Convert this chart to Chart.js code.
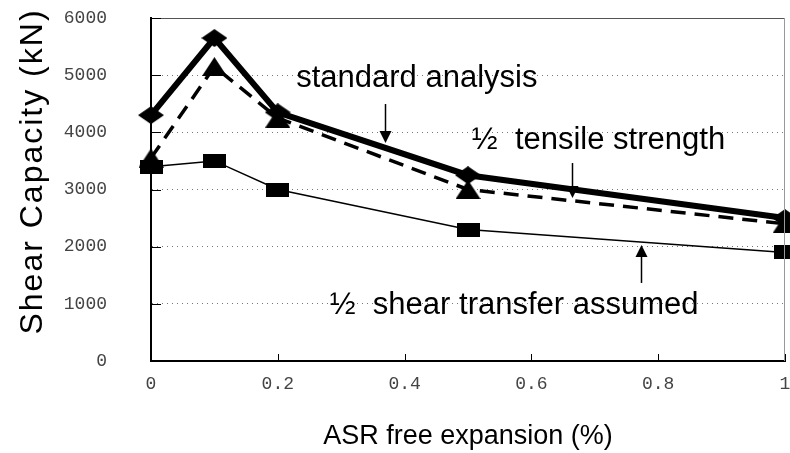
<!DOCTYPE html>
<html>
<head>
<meta charset="utf-8">
<script src="https://cdn.jsdelivr.net/npm/chart.js@4/dist/chart.umd.min.js"></script>
<style>
    body { margin: 0; background: #fff; }
    #wrap { width: 790px; height: 453px; }
</style>
</head>
<body>
<div id="wrap"><canvas id="myChart"></canvas></div>
<script>
// data
var expansion = [0, 0.1, 0.2, 0.5, 1.0];
var standardAnalysis = [4300, 5650, 4350, 3250, 2500];
var halfTensile = [3550, 5150, 4250, 3000, 2400];
var halfShear = [3400, 3500, 3000, 2300, 1900];
var xTicks = [0, 0.2, 0.4, 0.6, 0.8, 1];
var yTicks = [0, 1000, 2000, 3000, 4000, 5000, 6000];
var yTitle = 'Shear Capacity (kN)';
var xTitle = 'ASR free expansion (%)';

// text labels + arrows, in data units
var notes = [
    { text: 'standard analysis', x: 0.229, y: 4950, ax: 0.369, ay1: 4495, ay2: 3813 },
    { text: '\u00bd  tensile strength', x: 0.506, y: 3866, ax: 0.664, ay1: 3463, ay2: 2851 },
    { text: '\u00bd  shear transfer assumed', x: 0.282, y: 980, ax: 0.773, ay1: 1365, ay2: 2030 }
];

function makeMarker(type, w, h) {
    var c = document.createElement('canvas');
    c.width = w; c.height = h;
    var g = c.getContext('2d');
    g.fillStyle = '#000';
    g.beginPath();
    if (type == 'diamond') {
        g.moveTo(w / 2, 0); g.lineTo(w, h / 2); g.lineTo(w / 2, h); g.lineTo(0, h / 2);
    } else if (type == 'triangle') {
        g.moveTo(w / 2, 0); g.lineTo(w, h); g.lineTo(0, h);
    } else {
        g.rect(0, 0, w, h);
    }
    g.closePath();
    g.fill();
    return c;
}

function toPoints(vals) {
    return vals.map(function (v, i) { return { x: expansion[i], y: v }; });
}

var extras = {
    id: 'extras',
    afterDraw: function (chart) {
        var c = chart.ctx, xs = chart.scales.x, ys = chart.scales.y, a = chart.chartArea;
        c.save();
        // frame top/right
        c.strokeStyle = '#555';
        c.lineWidth = 1;
        c.beginPath();
        c.moveTo(a.left, a.top + 0.5); c.lineTo(a.right, a.top + 0.5);
        c.stroke();
        c.strokeStyle = '#999';
        c.beginPath();
        c.moveTo(a.right - 0.5, a.top); c.lineTo(a.right - 0.5, a.bottom);
        c.stroke();
        // inner tick marks
        c.strokeStyle = '#000';
        xTicks.forEach(function (t) {
            var px = Math.round(xs.getPixelForValue(t)) + 0.5;
            c.beginPath(); c.moveTo(px, a.bottom); c.lineTo(px, a.bottom - 7); c.stroke();
        });
        yTicks.forEach(function (t) {
            var py = Math.round(ys.getPixelForValue(t)) + 0.5;
            c.beginPath(); c.moveTo(a.left, py); c.lineTo(a.left + 10, py); c.stroke();
        });
        // notes
        c.fillStyle = '#000';
        c.font = '31px "Liberation Sans", Arial, sans-serif';
        c.textBaseline = 'middle';
        notes.forEach(function (n) {
            c.fillText(n.text, xs.getPixelForValue(n.x), ys.getPixelForValue(n.y));
            var ax = Math.round(xs.getPixelForValue(n.ax)) + 0.5;
            var y1 = ys.getPixelForValue(n.ay1), y2 = ys.getPixelForValue(n.ay2);
            var dir = y2 > y1 ? 1 : -1;
            c.lineWidth = 1.5;
            c.beginPath(); c.moveTo(ax, y1); c.lineTo(ax, y2 - dir * 10); c.stroke();
            c.beginPath();
            c.moveTo(ax, y2); c.lineTo(ax - 6, y2 - dir * 12); c.lineTo(ax + 6, y2 - dir * 12);
            c.closePath(); c.fill();
        });
        // y title, letter-spaced like the original
        c.translate(33, (a.top + a.bottom) / 2 - 18);
        c.rotate(-Math.PI / 2);
        c.font = '32px "Liberation Sans", Arial, sans-serif';
        c.letterSpacing = '2px';
        c.textAlign = 'center';
        c.fillText(yTitle, 0, 0);
        c.restore();
    }
};

var tickFont = { family: '"Liberation Mono", monospace', size: 18 };

var ctx = document.getElementById('myChart').getContext('2d');
var chart = new Chart(ctx, {
    type: 'scatter',
    data: {
        datasets: [{
            label: 'standard analysis',
            data: toPoints(standardAnalysis),
            showLine: true,
            borderColor: '#000',
            borderWidth: 6,
            pointStyle: makeMarker('diamond', 26, 18),
            order: 2
        }, {
            label: '1/2 tensile strength',
            data: toPoints(halfTensile),
            showLine: true,
            borderColor: '#000',
            borderWidth: 3.5,
            borderDash: [15, 9],
            pointStyle: makeMarker('triangle', 25, 19),
            order: 1
        }, {
            label: '1/2 shear transfer assumed',
            data: toPoints(halfShear),
            showLine: true,
            borderColor: '#000',
            borderWidth: 1.5,
            pointStyle: makeMarker('rect', 23, 14),
            order: 3
        }]
    },
    options: {
        responsive: true,
        maintainAspectRatio: false,
        animation: false,
        clip: false,
        layout: { autoPadding: false, padding: { top: 18, right: 5, left: 0, bottom: 0 } },
        plugins: { legend: { display: false }, tooltip: { enabled: false } },
        scales: {
            x: {
                type: 'linear',
                min: 0, max: 1,
                afterBuildTicks: function (s) { s.ticks = xTicks.map(function (v) { return { value: v }; }); },
                afterFit: function (s) {
                    s.height = 92;
                    s.paddingLeft = 0; s.paddingRight = 0;
                },
                grid: { display: false, drawTicks: false },
                border: { color: '#000', width: 2 },
                ticks: {
                    padding: 12,
                    color: '#444',
                    font: tickFont,
                    maxRotation: 0,
                    callback: function (v) { return String(v); }
                },
                title: {
                    display: true,
                    text: xTitle,
                    color: '#000',
                    font: { family: '"Liberation Sans", Arial, sans-serif', size: 27 },
                    padding: { top: 14, bottom: 0 }
                }
            },
            y: {
                min: 0, max: 6000,
                afterBuildTicks: function (s) { s.ticks = yTicks.map(function (v) { return { value: v }; }); },
                afterFit: function (s) {
                    s.width = 151;
                    s.paddingTop = 0; s.paddingBottom = 0;
                },
                grid: {
                    color: '#777',
                    lineWidth: 1,
                    drawTicks: false
                },
                border: { color: '#000', width: 2, dash: [1, 4] },
                ticks: {
                    padding: 44,
                    color: '#444',
                    font: tickFont,
                    callback: function (v) { return String(v); }
                },
                title: { display: false }
            }
        }
    },
    plugins: [extras]
});
</script>
</body>
</html>
